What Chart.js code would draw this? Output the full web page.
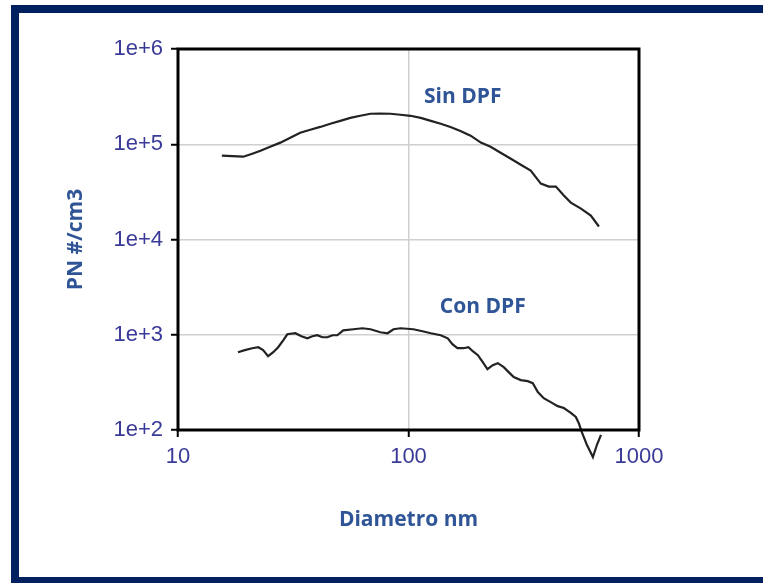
<!DOCTYPE html>
<html>
<head>
<meta charset="utf-8">
<script src="https://cdn.jsdelivr.net/npm/chart.js@4/dist/chart.umd.min.js"></script>
<style>
    html, body { margin: 0; padding: 0; background: #fff; overflow: hidden; }
    #frame {
        position: absolute; left: 11px; top: 5px; width: 820px; height: 580px;
        box-sizing: border-box; border: 8px solid #002060;
    }
    #chart { position: absolute; left: 0; top: 0; }
</style>
</head>
<body>
<div id="frame"></div>
<canvas id="chart" width="763" height="583"></canvas>
<script>
// --- DATA ---
const sinDiam = [15.5, 17.2, 19.2, 21.0, 22.8, 25.1, 27.8, 30.7, 33.9, 37.5, 41.4, 45.8, 50.6, 55.9, 61.8, 68.4,
    75.5, 83.5, 92.3, 102, 113, 125, 138, 152, 168, 186, 206, 227, 251, 278, 307, 339, 375, 406, 436, 472, 506, 560, 618, 670];
const sinPN = [75900, 75000, 74000, 79600, 85500, 94200, 104000, 117000, 132000, 142000, 152000, 164000, 176000, 189000, 199000, 209000,
    210000, 209000, 204000, 199000, 189000, 176000, 164000, 152000, 138000, 123000, 104000, 94200, 81500, 70500, 61000, 52800, 38600, 35900, 35900, 28900, 24400, 21100, 17800, 13700];

const conDiam = [18.2, 19.5, 21.0, 22.3, 23.4, 24.6, 25.9, 27.2, 28.6, 29.8, 32.3, 34.3, 36.4, 38.3, 40.2, 42.3, 44.5, 46.8, 49.1,
    52.1, 57.7, 63.1, 68.4, 75.5, 81.1, 86.1, 92.3, 105, 115, 125, 138, 148, 155, 163, 173, 182, 190, 200, 210, 220, 232, 244,
    259, 272, 286, 307, 329, 346, 364, 386, 414, 444, 472, 506, 532, 548, 565, 594, 631, 657, 684];
const conPN = [656, 689, 722, 740, 689, 596, 656, 740, 875, 1012, 1037, 964, 918, 964, 988, 941, 941, 988, 988,
    1114, 1143, 1170, 1143, 1062, 1037, 1143, 1170, 1143, 1089, 1037, 988, 918, 796, 722, 722, 740, 672, 610, 515, 435, 480, 503,
    457, 405, 359, 334, 326, 310, 250, 216, 196, 178, 170, 151, 137, 118, 95, 70, 52, 70, 89];

const xTicks = [10, 100, 1000];
const yTicks = [100, 1000, 10000, 100000, 1000000];

const curveLabels = [
    { text: 'Sin DPF', x: 172, y: 314000 },
    { text: 'Con DPF', x: 210, y: 1940 }
];

const labelColor = '#2f5597';
const tickColor = '#3a3a99';

function toPoints(xs, ys) {
    return xs.map((x, i) => ({ x: x, y: ys[i] }));
}

// frame round the plot + curve labels
const framePlugin = {
    id: 'frameAndLabels',
    afterDatasetsDraw(chart) {
        const { ctx, chartArea: a, scales } = chart;
        ctx.save();
        ctx.strokeStyle = '#000';
        ctx.lineWidth = 3;
        ctx.strokeRect(a.left, a.top, a.right - a.left, a.bottom - a.top);

        ctx.fillStyle = labelColor;
        ctx.font = "bold 21px 'Open Sans'";
        ctx.textAlign = 'center';
        ctx.textBaseline = 'middle';
        curveLabels.forEach(l => {
            ctx.fillText(l.text, scales.x.getPixelForValue(l.x), scales.y.getPixelForValue(l.y));
        });
        ctx.restore();
    }
};

const lineStyle = {
    borderColor: '#222',
    borderWidth: 2.2,
    pointRadius: 0,
    tension: 0,
    fill: false,
    clip: false
};

new Chart(document.getElementById('chart').getContext('2d'), {
    type: 'line',
    data: {
        datasets: [
            Object.assign({ label: 'Sin DPF', data: toPoints(sinDiam, sinPN) }, lineStyle),
            Object.assign({ label: 'Con DPF', data: toPoints(conDiam, conPN) }, lineStyle)
        ]
    },
    options: {
        responsive: false,
        animation: false,
        layout: { padding: { left: 0, top: 49, right: 124, bottom: 0 } },
        plugins: {
            legend: { display: false },
            tooltip: { enabled: false }
        },
        scales: {
            x: {
                type: 'logarithmic',
                min: 10, max: 1000,
                afterBuildTicks: s => { s.ticks = xTicks.map(v => ({ value: v })); },
                afterFit: s => { s.height = 153; },
                ticks: {
                    font: { family: "'Liberation Sans', Arial", size: 22 },
                    color: tickColor,
                    padding: 7,
                    maxRotation: 0,
                    callback: v => String(v)
                },
                grid: { color: '#cfcfcf', lineWidth: 1.5, tickLength: 7, tickColor: '#000', tickWidth: 2 },
                border: { display: false },
                title: {
                    display: true,
                    text: 'Diametro nm',
                    color: labelColor,
                    font: { family: "'Open Sans'", size: 21, weight: 'bold' },
                    padding: { top: 0, bottom: 50 }
                }
            },
            y: {
                type: 'logarithmic',
                min: 100, max: 1000000,
                afterBuildTicks: s => { s.ticks = yTicks.map(v => ({ value: v })); },
                afterFit: s => { s.width = 178; },
                ticks: {
                    font: { family: "'Liberation Sans', Arial", size: 22 },
                    color: tickColor,
                    padding: 8,
                    callback: v => '1e+' + Math.round(Math.log10(v))
                },
                grid: { color: '#cfcfcf', lineWidth: 1.5, tickLength: 7, tickColor: '#000', tickWidth: 2 },
                border: { display: false },
                title: {
                    display: true,
                    text: 'PN #/cm3',
                    color: labelColor,
                    font: { family: "'Open Sans'", size: 21, weight: 'bold' },
                    padding: { top: 63, bottom: 0 }
                }
            }
        }
    },
    plugins: [framePlugin]
});
</script>
</body>
</html>
